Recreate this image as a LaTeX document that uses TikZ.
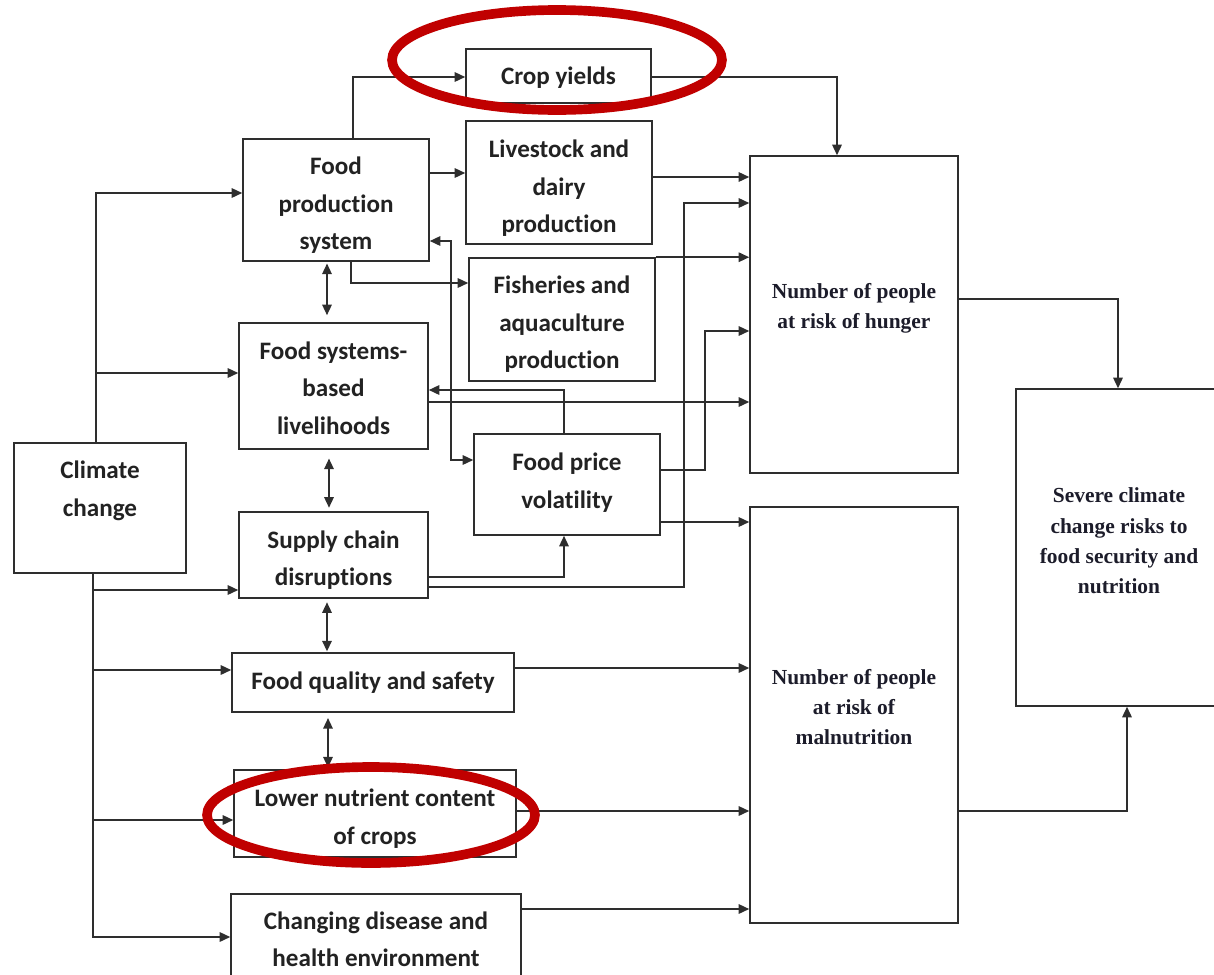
\documentclass[tikz,border=0pt]{standalone}
\usepackage{fontspec}
\setmainfont{Carlito}[Ligatures=NoCommon]
\newfontfamily\tnr{Liberation Serif}
\usetikzlibrary{arrows.meta}
\definecolor{edgec}{HTML}{2E2E2E}
\definecolor{txtc}{HTML}{222222}
\definecolor{restxt}{HTML}{1C1C2A}
\definecolor{ringc}{HTML}{C00000}
\newcommand\tb[6]{%
  \node[box, minimum width=#3, minimum height=#4] (#1) at (#2) {};
  \node[txt] (#1-t) at (#5) {#6};}
\begin{document}
\begin{tikzpicture}[x=0.02cm,y=-0.02cm,
  box/.style={draw=edgec, line width=0.9pt, inner sep=0pt},
  txt/.style={inner sep=0pt, align=center, font=\fontsize{14.3}{21.3}\selectfont\bfseries, text=txtc},
  res/.style={inner sep=0pt, align=center, font=\tnr\fontsize{12.2}{17.2}\selectfont\bfseries, text=restxt},
  tip/.tip={Triangle[length=6pt,width=5.4pt]},
  arr/.style={draw=edgec, line width=0.9pt, -tip},
  dbl/.style={draw=edgec, line width=0.9pt, tip-tip},
  ring/.style={draw=ringc, line width=5.5pt}
]
\useasboundingbox (0,0) rectangle (1214,974);
\clip (0,0) rectangle (1214,974);

% boxes
\tb{crop}{558.5,76}{3.70cm}{1.08cm}{558.5,78}{Crop yields}
\tb{fps}{336,200}{3.72cm}{2.44cm}{336,205.5}{Food\\production\\system}
\tb{live}{559,182.5}{3.72cm}{2.46cm}{559,188.5}{Livestock and\\dairy\\production}
\tb{fish}{562,319.5}{3.72cm}{2.46cm}{562,324.5}{Fisheries and\\aquaculture\\production}
\tb{liv}{333.5,386}{3.78cm}{2.52cm}{333.5,388}{Food systems-\\based\\livelihoods}
\tb{fpv}{567,484.5}{3.72cm}{2.02cm}{567,482.5}{Food price\\volatility}
\tb{cc}{100,508}{3.44cm}{2.60cm}{100,491}{Climate\\change}
\tb{sc}{333.5,555}{3.78cm}{1.72cm}{333.5,560}{Supply chain\\disruptions}
\tb{fq}{373,682.5}{5.64cm}{1.18cm}{373,683}{Food quality and safety}
\tb{lnc}{375,813.5}{5.64cm}{1.74cm}{375,818.5}{Lower nutrient content\\of crops}
\tb{cd}{376,939}{5.80cm}{1.80cm}{376,939}{Changing disease and\\health environment}
\node[box, minimum width=4.16cm, minimum height=6.34cm] (hunger) at (854,314.5) {};
\node[res] (huntext) at (854,308) {Number of people\\at risk of hunger};
\node[box, minimum width=4.16cm, minimum height=8.32cm] (mal) at (854,715) {};
\node[res] (maltext) at (854,707) {Number of people\\at risk of\\malnutrition};
\node[box, minimum width=4.12cm, minimum height=6.34cm] (sev) at (1119,547.5) {};
\node[res] (sevtext) at (1119,541) {Severe climate\\change risks to\\food security and\\nutrition};

% climate change connectors
\draw[arr] (cc.north -| 96,0) |- (fps.west |- 0,193);
\draw[arr] (cc.north -| 96,0) |- (liv.west |- 0,373);
\draw[arr] (cc.south -| 93,0) |- (sc.west |- 0,590);
\draw[arr] (cc.south -| 93,0) |- (fq.west |- 0,670);
\draw[arr] (cc.south -| 93,0) |- (lnc.west |- 0,820);
\draw[arr] (cc.south -| 93,0) |- (cd.west |- 0,937);

% food production system
\draw[arr] (fps.north -| 353,0) |- (crop.west |- 0,77);
\draw[arr] (fps.east |- 0,173) -- (live.west |- 0,173);
\draw[arr] (fps.south -| 351,0) |- (fish.west |- 0,283);
\draw[dbl] (fps.east |- 0,241) -| (451,460) -- (fpv.west |- 0,460);

% vertical double arrows
\draw[dbl, shorten <=1pt, shorten >=4pt] (fps.south -| 327,0) -- (liv.north -| 327,0);
\draw[dbl, shorten <=5pt, shorten >=2pt] (liv.south -| 329,0) -- (sc.north -| 329,0);
\draw[dbl, shorten <=2pt, shorten >=0.5pt] (sc.south -| 327,0) -- (fq.north -| 327,0);
\draw[dbl, shorten <=3pt, shorten >=1pt] (fq.south -| 328,0) -- (lnc.north -| 328,0);

% to hunger
\draw[arr] (crop.east |- 0,77) -| (hunger.north -| 837,0);
\draw[arr] (live.east |- 0,177) -- (hunger.west |- 0,177);
\draw[arr] (fish.north east) -- (hunger.west |- fish.north east);
\draw[arr] (liv.east |- 0,402) -- (hunger.west |- 0,402);
\draw[arr] (fpv.east |- 0,470) -- (705,470) -- (705,331) -- (hunger.west |- 0,331);
\draw[arr] (sc.east |- 0,587) -- (684,587) -- (684,203) -- (hunger.west |- 0,203);

% food price volatility
\draw[arr] (fpv.north -| 564,0) |- (liv.east |- 0,390);
\draw[arr] (sc.east |- 0,577) -| (fpv.south -| 564,0);
\draw[arr] (fpv.east |- 0,522) -- (mal.west |- 0,522);

% to malnutrition
\draw[arr] (fq.east |- 0,668) -- (mal.west |- 0,668);
\draw[arr] (lnc.east |- 0,811) -- (mal.west |- 0,811);
\draw[arr] (cd.east |- 0,909) -- (mal.west |- 0,909);

% to severe risks
\draw[arr] (hunger.east |- 0,299) -| (sev.north -| 1118,0);
\draw[arr] (mal.east |- 0,811) -| (sev.south -| 1127,0);

% red highlight rings
\draw[ring] (557,60) ellipse [x radius=3.30cm, y radius=1.00cm];
\draw[ring] (371,815) ellipse [x radius=3.28cm, y radius=0.96cm];
\end{tikzpicture}
\end{document}
